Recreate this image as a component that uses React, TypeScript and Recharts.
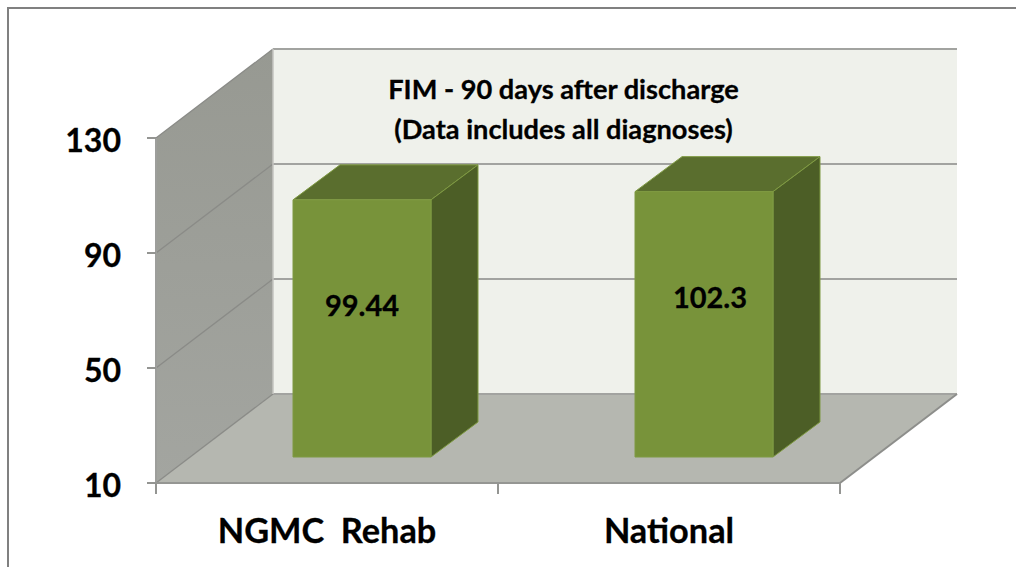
import React from "react";
import { BarChart, Bar, XAxis, YAxis, ReferenceArea, LabelList } from "recharts";

const categories = ["NGMC  Rehab", "National"];
const scores = [99.44, 102.3];
const yTicks = [10, 50, 90, 130];
const titleLines = ["FIM - 90 days after discharge", "(Data includes all diagnoses)"];

const data = categories.map((name, i) => ({ name, score: scores[i] }));

const FONT = "Lato, 'Open Sans', sans-serif";
const DEPTH_X = 117;
const DEPTH_Y = 89;
const BAR_SHIFT_X = 35;
const BAR_SHIFT_Y = 26;
const BAR_DEPTH_X = 47;
const BAR_DEPTH_Y = 35;

function poly(points: number[][]) {
  return points.map((p) => p.join(",")).join(" ");
}

function Room(props: any) {
  const { x, y, width, height } = props;
  const bottom = y + height;
  const right = x + width;
  const bx = x + DEPTH_X;
  const sy = (v: number) => bottom - ((v - yTicks[0]) / (yTicks[yTicks.length - 1] - yTicks[0])) * height;
  return (
    <g>
      <defs>
        <linearGradient id="sideWall" x1="0" y1="0" x2="0" y2="1">
          <stop offset="0" stopColor="#979992" />
          <stop offset="1" stopColor="#a3a5a0" />
        </linearGradient>
      </defs>
      <polygon
        points={poly([[x, y], [bx, y - DEPTH_Y], [bx, bottom - DEPTH_Y], [x, bottom]])}
        fill="url(#sideWall)"
      />
      <rect x={bx} y={y - DEPTH_Y} width={width} height={height} fill="#eff1eb" />
      <polygon
        points={poly([[x, bottom], [bx, bottom - DEPTH_Y], [right + DEPTH_X, bottom - DEPTH_Y], [right, bottom]])}
        fill="#b5b7b0"
      />
      {yTicks.map((t) => (
        <g key={t}>
          <line x1={bx} x2={right + DEPTH_X} y1={sy(t) - DEPTH_Y} y2={sy(t) - DEPTH_Y} stroke="#a2a3a0" strokeWidth={2} />
          <line x1={x} x2={bx} y1={sy(t)} y2={sy(t) - DEPTH_Y} stroke="#8a8b87" strokeWidth={1.3} />
        </g>
      ))}
      <line x1={bx} x2={bx} y1={y - DEPTH_Y} y2={bottom - DEPTH_Y} stroke="#c4c5c1" strokeWidth={1.5} />
      <line x1={x} x2={x} y1={y} y2={bottom} stroke="#9d9e9b" strokeWidth={2} />
      <line x1={right} x2={right + DEPTH_X} y1={bottom} y2={bottom - DEPTH_Y} stroke="#8d8e8b" strokeWidth={2} />
      <line x1={x} x2={right} y1={bottom} y2={bottom} stroke="#959693" strokeWidth={2} />
      {categories.concat("").map((_, i) => {
        const tx = x + (width * i) / categories.length;
        return <line key={i} x1={tx} x2={tx} y1={bottom} y2={bottom + 11} stroke="#949592" strokeWidth={2} />;
      })}
      <text
        textAnchor="middle"
        fontFamily={FONT}
        fontWeight={700}
        fontSize={27.2}
        fill="#000"
        stroke="#000"
        strokeWidth={0.3}
      >
        <tspan x={563.5} y={99}>{titleLines[0]}</tspan>
        <tspan x={563.5} y={139}>{titleLines[1]}</tspan>
      </text>
    </g>
  );
}

function Box(props: any) {
  const { x, y, width, height } = props;
  const l = x + BAR_SHIFT_X;
  const t = y - BAR_SHIFT_Y;
  const r = l + width;
  const b = t + height;
  return (
    <g stroke="#7f9a42" strokeWidth={1} strokeLinejoin="round">
      <polygon
        points={poly([[l, t], [l + BAR_DEPTH_X, t - BAR_DEPTH_Y], [r + BAR_DEPTH_X, t - BAR_DEPTH_Y], [r, t]])}
        fill="#5a6e2e"
      />
      <polygon
        points={poly([[r, t], [r + BAR_DEPTH_X, t - BAR_DEPTH_Y], [r + BAR_DEPTH_X, b - BAR_DEPTH_Y], [r, b]])}
        fill="#4c5e26"
      />
      <rect x={l} y={t} width={width} height={height} fill="#78933a" />
    </g>
  );
}

function ValueLabel(props: any) {
  const { x, y, width, value, index } = props;
  return (
    <text
      x={x + BAR_SHIFT_X + width / 2 + (index === 1 ? 6 : 0)}
      y={y - BAR_SHIFT_Y + 104.5}
      textAnchor="middle"
      dominantBaseline="central"
      fontFamily={FONT}
      fontWeight={700}
      fontSize={29}
      fill="#000"
      stroke="#000"
      strokeWidth={0.3}
    >
      {value}
    </text>
  );
}

function XTick(props: any) {
  const { x, payload } = props;
  return (
    <text
      x={x}
      y={543}
      textAnchor="middle"
      xmlSpace="preserve"
      style={{ whiteSpace: "pre" }}
      fontFamily={FONT}
      fontWeight={700}
      fontSize={34.3}
      fill="#000"
      stroke="#000"
      strokeWidth={0.3}
    >
      {payload.value}
    </text>
  );
}

function YTick(props: any) {
  const { x, y, payload } = props;
  return (
    <text
      x={x}
      y={y + 14}
      textAnchor="end"
      fontFamily={FONT}
      fontWeight={700}
      fontSize={32}
      fill="#000"
      stroke="#000"
      strokeWidth={0.3}
    >
      {payload.value}
    </text>
  );
}

export default function App() {
  return (
    <div style={{ position: "fixed", left: 0, top: 0, width: 1016, height: 567, background: "#fff" }}>
      <svg width={1016} height={567} style={{ position: "absolute", left: 0, top: 0 }}>
        <line x1={8} x2={1016} y1={8} y2={8} stroke="#808080" strokeWidth={2} />
        <line x1={8} x2={8} y1={7} y2={567} stroke="#808080" strokeWidth={2} />
      </svg>
      <div style={{ position: "absolute", left: 0, top: 0 }}>
        <BarChart
          width={1016}
          height={567}
          data={data}
          margin={{ top: 138, right: 176, bottom: 0, left: 0 }}
          barSize={138}
        >
          <XAxis dataKey="name" height={84} axisLine={false} tickLine={false} interval={0} tick={XTick} />
          <YAxis
            width={156}
            domain={[10, 130]}
            ticks={yTicks}
            axisLine={false}
            tickLine={{ stroke: "#949592", strokeWidth: 2 }}
            tickSize={9}
            tickMargin={26}
            tick={YTick}
          />
          <ReferenceArea y1={10} y2={130} shape={Room} ifOverflow="visible" />
          <Bar dataKey="score" shape={Box} isAnimationActive={false}>
            <LabelList dataKey="score" content={ValueLabel} />
          </Bar>
        </BarChart>
      </div>
    </div>
  );
}
